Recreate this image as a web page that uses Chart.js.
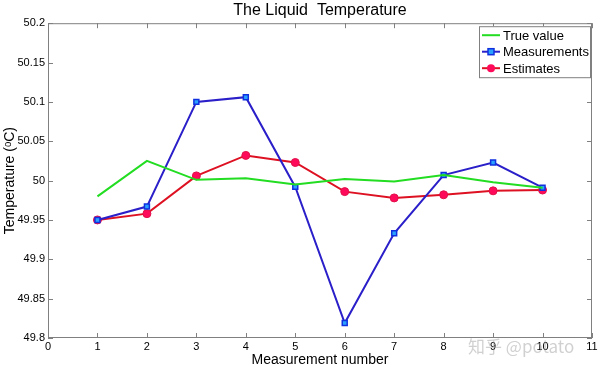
<!DOCTYPE html>
<html>
<head>
<meta charset="utf-8">
<script src="https://cdn.jsdelivr.net/npm/chart.js@4"></script>
<style>
  html, body { margin: 0; padding: 0; background: #fff; }
  #wrap { position: relative; width: 600px; height: 373px; }
  #watermark {
    position: absolute; left: 468px; top: 333px;
    font: 17px "Noto Sans CJK SC", sans-serif; color: rgba(150,150,150,0.45);
  }
</style>
</head>
<body>
<div id="wrap">
  <canvas id="chart" width="600" height="373"></canvas>
  <div id="watermark">知乎 @potato</div>
</div>
<script>
// data
const steps = [1, 2, 3, 4, 5, 6, 7, 8, 9, 10];
const trueValue = [49.980, 50.025, 50.001, 50.003, 49.995, 50.002, 49.999, 50.007, 49.998, 49.991];
const measurements = [49.950, 49.967, 50.100, 50.106, 49.992, 49.819, 49.933, 50.007, 50.023, 49.991];
const estimates = [49.950, 49.958, 50.006, 50.032, 50.023, 49.986, 49.978, 49.982, 49.987, 49.988];
const xTicks = [0, 1, 2, 3, 4, 5, 6, 7, 8, 9, 10, 11];
const yTicks = [49.8, 49.85, 49.9, 49.95, 50, 50.05, 50.1, 50.15, 50.2];

const FONT = "'Liberation Sans', Arial, sans-serif";
const pts = (arr) => arr.map((v, i) => ({ x: steps[i], y: v }));

// matlab style: box, ticks pointing inward on all four sides
const boxTicks = {
  id: "boxTicks",
  afterDatasetsDraw(chart) {
    const { ctx, chartArea: a, scales } = chart;
    ctx.save();
    ctx.strokeStyle = "#808080";
    ctx.lineWidth = 1;
    ctx.strokeRect(a.left + 0.5, a.top + 0.5, a.right - a.left - 1, a.bottom - a.top - 1);
    const len = 5;
    ctx.beginPath();
    xTicks.forEach((t) => {
      const px = Math.round(scales.x.getPixelForValue(t)) + 0.5;
      ctx.moveTo(px, a.bottom); ctx.lineTo(px, a.bottom - len);
      ctx.moveTo(px, a.top); ctx.lineTo(px, a.top + len);
    });
    yTicks.forEach((t) => {
      const py = Math.round(scales.y.getPixelForValue(t)) + 0.5;
      ctx.moveTo(a.left, py); ctx.lineTo(a.left + len, py);
      ctx.moveTo(a.right, py); ctx.lineTo(a.right - len, py);
    });
    ctx.stroke();
    ctx.restore();
  }
};

// legend box in the upper right of the plot
const boxLegend = {
  id: "boxLegend",
  afterDraw(chart) {
    const { ctx, chartArea: a } = chart;
    const x0 = a.right - 113, y0 = a.top + 3, w = 111, h = 51;
    ctx.save();
    ctx.fillStyle = "#fff";
    ctx.fillRect(x0, y0, w, h);
    ctx.strokeStyle = "#808080";
    ctx.lineWidth = 1;
    ctx.strokeRect(x0 + 0.5, y0 + 0.5, w, h);
    ctx.font = "13px " + FONT;
    ctx.textBaseline = "middle";
    chart.data.datasets.forEach((ds, i) => {
      const y = y0 + 9 + i * 16.5;
      ctx.strokeStyle = ds.borderColor;
      ctx.lineWidth = 2;
      ctx.beginPath();
      ctx.moveTo(x0 + 3, y); ctx.lineTo(x0 + 21, y);
      ctx.stroke();
      if (ds.pointStyle === "rect") {
        ctx.fillStyle = ds.pointBackgroundColor;
        ctx.strokeStyle = ds.pointBorderColor;
        ctx.lineWidth = 1.5;
        ctx.fillRect(x0 + 9, y - 3, 6, 6);
        ctx.strokeRect(x0 + 9, y - 3, 6, 6);
      } else if (ds.pointStyle === "circle") {
        ctx.fillStyle = ds.pointBackgroundColor;
        ctx.beginPath();
        ctx.arc(x0 + 12, y, 4, 0, Math.PI * 2);
        ctx.fill();
      }
      ctx.fillStyle = "#000";
      ctx.fillText(ds.label, x0 + 24, y + 1);
    });
    ctx.restore();
  }
};

new Chart(document.getElementById("chart"), {
  type: "line",
  data: {
    datasets: [
      {
        label: "True value",
        data: pts(trueValue),
        borderColor: "#22dd22",
        borderWidth: 2,
        pointRadius: 0,
        pointStyle: false
      },
      {
        label: "Measurements",
        data: pts(measurements),
        borderColor: "#2a1fc8",
        borderWidth: 2,
        pointStyle: "rect",
        pointRadius: 3.5,
        pointBackgroundColor: "#2aa0ff",
        pointBorderColor: "#1030e0",
        pointBorderWidth: 1.5
      },
      {
        label: "Estimates",
        data: pts(estimates),
        borderColor: "#dd1122",
        borderWidth: 2,
        pointStyle: "circle",
        pointRadius: 4,
        pointBackgroundColor: "#ff0a5a",
        pointBorderColor: "#e0104a",
        pointBorderWidth: 1
      }
    ]
  },
  options: {
    responsive: false,
    animation: false,
    layout: { padding: { left: 0, right: 8, top: 0, bottom: 0 } },
    plugins: {
      legend: { display: false },
      tooltip: { enabled: false },
      title: {
        display: true,
        fullSize: false,
        text: "The Liquid  Temperature",
        color: "#000",
        font: { family: FONT, size: 16, weight: "normal" },
        padding: { top: 1, bottom: 3 }
      }
    },
    scales: {
      x: {
        type: "linear",
        min: 0,
        max: 11,
        afterBuildTicks: (s) => { s.ticks = xTicks.map((v) => ({ value: v })); },
        afterFit: (s) => { s.height = 35; },
        grid: { display: false, drawTicks: false },
        border: { display: false },
        ticks: { color: "#000", font: { family: FONT, size: 11 }, padding: 2, maxRotation: 0 },
        title: {
          display: true,
          text: "Measurement number",
          color: "#000",
          font: { family: FONT, size: 14 },
          padding: { top: 0, bottom: 4 }
        }
      },
      y: {
        min: 49.8,
        max: 50.2,
        afterBuildTicks: (s) => { s.ticks = yTicks.map((v) => ({ value: v })); },
        afterFit: (s) => { s.width = 48; },
        grid: { display: false, drawTicks: false },
        border: { display: false },
        ticks: {
          color: "#000",
          font: { family: FONT, size: 11 },
          padding: 3,
          callback: (v) => String(Math.round(v * 100) / 100)
        },
        title: {
          display: true,
          text: "Temperature (ᵒC)",
          color: "#000",
          font: { family: FONT, size: 14 },
          padding: { top: 2, bottom: 0 }
        }
      }
    }
  },
  plugins: [boxTicks, boxLegend]
});
</script>
</body>
</html>
